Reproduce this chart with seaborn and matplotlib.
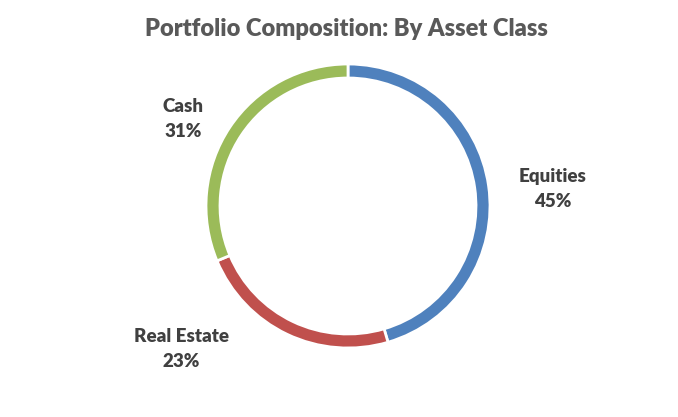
import matplotlib
matplotlib.use("Agg")
import matplotlib.pyplot as plt
import seaborn as sns

categories = ["Equities", "Real Estate", "Cash"]
values = [45, 23, 31]
colors = ["#4F81BD", "#C0504D", "#9BBB59"]

sns.set_theme(style="white")
plt.rcParams['font.family'] = ['Lato', 'DejaVu Sans']

fig = plt.figure(figsize=(6.78, 4.17), dpi=100)
ax = fig.add_axes([0, 0, 1, 1])

cx, cy, r = 348, 417 - 206, 142
ax.pie(values, colors=colors, startangle=90, counterclock=False,
       center=(cx, cy), radius=r, frame=True,
       wedgeprops=dict(width=14, edgecolor='white', linewidth=2))
ax.set_xlim(0, 678)
ax.set_ylim(0, 417)
ax.set_aspect('equal')
ax.axis('off')

label_pos = [(553, 417 - 189), (181, 417 - 349), (183, 417 - 119)]
for cat, v, (x, y) in zip(categories, values, label_pos):
    ax.text(x, y, f"{cat}\n{v}%", ha='center', va='center', fontsize=13.5,
            fontweight='heavy', color='#404040', linespacing=1.55)

ax.text(346, 417 - 29, "Portfolio Composition: By Asset Class", ha='center',
        va='center', fontsize=17, fontweight='heavy', color='#595959')

fig.savefig("out.png", dpi=100)
